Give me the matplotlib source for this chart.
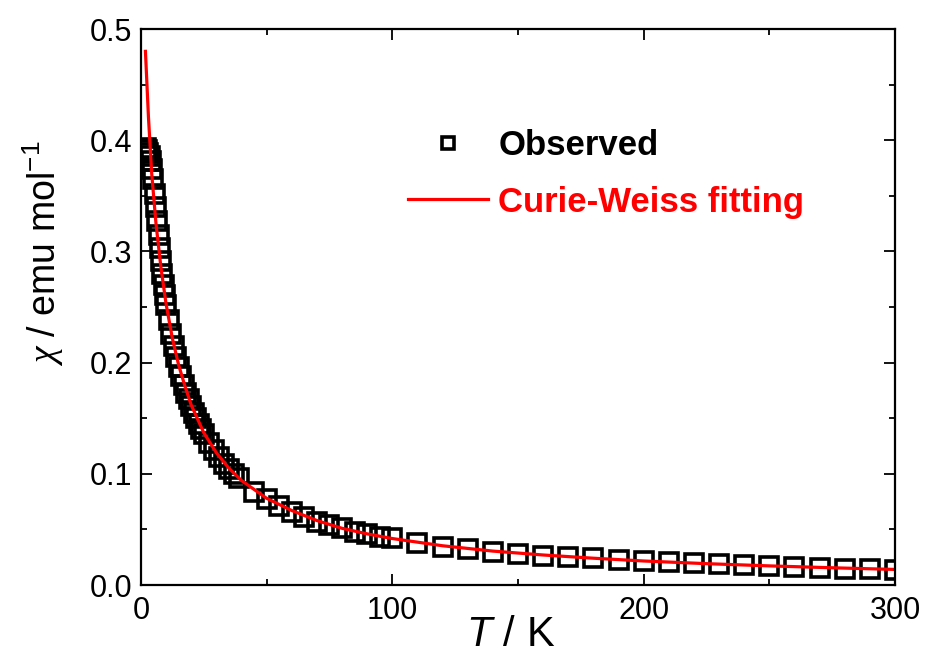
import matplotlib
matplotlib.use('Agg')
import matplotlib.pyplot as plt

plt.rcParams['font.family'] = ['Liberation Sans', 'DejaVu Sans']
plt.rcParams['mathtext.fontset'] = 'custom'
plt.rcParams['mathtext.rm'] = 'Liberation Sans'
plt.rcParams['mathtext.it'] = 'Liberation Sans:italic'
plt.rcParams['mathtext.bf'] = 'Liberation Serif:italic'

# observed susceptibility
T_obs = [2.0, 2.5, 3.0, 3.5, 4.0, 4.5, 5.0, 5.5, 6.0, 6.5, 7.0, 7.5, 8.0, 8.5, 9.0, 9.5,
         10, 11, 12, 13, 14, 15, 16, 17, 18, 19, 20, 21, 22, 23, 24, 25,
         27, 29, 31, 33, 35, 37, 39,
         45, 50, 55, 60, 65, 70, 75, 80, 85, 90, 95,
         100, 110, 120, 130, 140, 150, 160, 170, 180, 190, 200,
         210, 220, 230, 240, 250, 260, 270, 280, 290, 300]
chi_obs = [0.393, 0.391, 0.389, 0.386, 0.381, 0.374, 0.365, 0.352, 0.340, 0.327, 0.315, 0.303,
           0.291, 0.280, 0.270, 0.261,
           0.252, 0.238, 0.226, 0.215, 0.205, 0.196, 0.188, 0.180, 0.173, 0.167, 0.161,
           0.155, 0.150, 0.145, 0.140, 0.136,
           0.128, 0.121, 0.115, 0.109, 0.104, 0.100, 0.096,
           0.084, 0.077, 0.071, 0.066, 0.061, 0.057, 0.054, 0.051, 0.048, 0.046, 0.043,
           0.042, 0.0375, 0.034, 0.032, 0.0295, 0.028, 0.0265, 0.025, 0.024, 0.0228, 0.0219,
           0.021, 0.020, 0.019, 0.018, 0.0172, 0.0165, 0.0157, 0.0148, 0.014, 0.0132]

# Curie-Weiss fitting curve
T_fit = [1.8, 3, 4.3, 6, 8, 10, 12.5, 15, 17.5, 20, 25, 30, 35, 40, 50, 60, 70, 80, 90,
         100, 120, 140, 160, 180, 200, 225, 250, 275, 300]
chi_fit = [0.480, 0.421, 0.370, 0.325, 0.285, 0.253, 0.222, 0.198, 0.179, 0.162, 0.137,
           0.119, 0.105, 0.094, 0.078, 0.067, 0.058, 0.051, 0.046,
           0.0418, 0.0353, 0.0305, 0.0270, 0.0241, 0.0216, 0.0192, 0.0172, 0.0155, 0.0140]

fig = plt.figure(figsize=(9.27, 6.54), dpi=100)
ax = fig.add_axes([0.152, 0.1055, 0.8135, 0.850])

ax.plot(T_obs, chi_obs, ls='none', marker='s', ms=13, mfc='none', mec='black', mew=2.6,
        label='Observed')
ax.plot(T_fit, chi_fit, color='red', lw=2.3, label='Curie-Weiss fitting')

ax.set_xlim(0, 300)
ax.set_ylim(0, 0.5)
ax.set_xticks([0, 100, 200, 300])
ax.set_xticks([50, 150, 250], minor=True)
ax.set_yticks([0.0, 0.1, 0.2, 0.3, 0.4, 0.5])
ax.set_yticks([0.05, 0.15, 0.25, 0.35, 0.45], minor=True)
ax.set_yticklabels(['0.0', '0.1', '0.2', '0.3', '0.4', '0.5'])

ax.tick_params(which='both', direction='in', top=True, right=True, width=1.3, labelsize=22)
ax.tick_params(which='major', length=8)
ax.tick_params(which='minor', length=4.5)
ax.tick_params(axis='x', pad=8)
ax.tick_params(axis='y', pad=6)
for s in ax.spines.values():
    s.set_linewidth(1.6)

ax.set_xlabel('$T$ / K', fontsize=30, labelpad=-8)
ax.xaxis.label.set_x(0.49)
ax.set_ylabel(r'$\mathbf{\chi}$ / emu mol$^{-1}$', fontsize=27, labelpad=17)
ax.yaxis.label.set_y(0.597)

leg = ax.legend(loc='center', bbox_to_anchor=(0.617, 0.74), frameon=False,
                prop={'size': 25, 'weight': 'bold'}, handlelength=2.3, handletextpad=0.3,
                labelspacing=0.69, markerscale=0.7)
leg.get_texts()[1].set_color('red')

fig.savefig('out.png', dpi=100)
